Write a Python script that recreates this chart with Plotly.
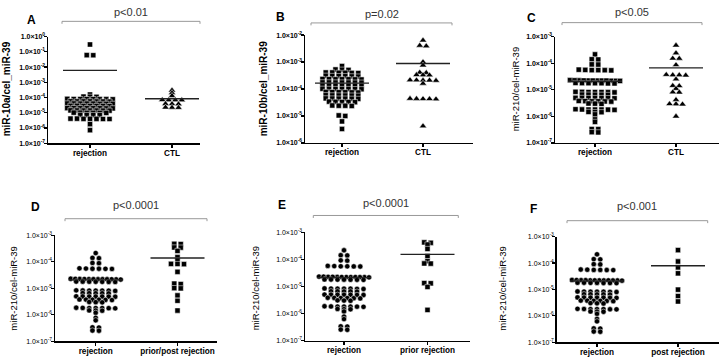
import numpy as np
import plotly.graph_objects as go

# ---------------- data ----------------
a_rej = [3.05e-1, 6.0e-2, 6.1e-2,
         1.58e-4,
         1.12e-4, 1.10e-4, 1.14e-4,
         7.9e-5, 8.0e-5, 7.8e-5, 8.1e-5, 7.9e-5, 7.7e-5, 8.0e-5, 7.8e-5,
         5.6e-5, 5.5e-5, 5.7e-5, 5.6e-5, 5.4e-5, 5.6e-5, 5.5e-5,
         4.0e-5, 3.9e-5, 4.1e-5, 4.0e-5, 3.9e-5, 4.0e-5, 4.1e-5, 3.9e-5,
         2.8e-5, 2.9e-5, 2.8e-5, 2.75e-5, 2.8e-5, 2.9e-5, 2.8e-5,
         2.0e-5, 2.0e-5, 1.95e-5, 2.05e-5, 2.0e-5, 1.95e-5, 2.0e-5, 2.05e-5,
         1.4e-5, 1.45e-5, 1.4e-5, 1.37e-5, 1.4e-5, 1.42e-5, 1.38e-5,
         1.0e-5, 1.02e-5, 0.98e-5, 1.0e-5, 1.01e-5, 0.99e-5,
         7.1e-6, 7.0e-6, 7.2e-6, 7.1e-6,
         4.0e-6, 4.1e-6, 3.9e-6, 4.0e-6, 4.1e-6, 3.9e-6, 4.0e-6,
         1.8e-6,
         7.2e-7]
a_ctl = [3.0e-4, 2.0e-4, 1.3e-4,
         6.9e-5, 7.0e-5, 6.8e-5, 6.9e-5,
         3.8e-5, 3.9e-5, 3.7e-5,
         2.2e-5, 2.25e-5, 2.15e-5]

b_rej = [7.1e-4,
         5.2e-4, 5.3e-4, 5.1e-4,
         4.0e-4, 4.1e-4, 3.9e-4, 4.0e-4, 4.1e-4, 3.95e-4,
         3.0e-4, 3.1e-4, 2.95e-4, 3.0e-4, 3.05e-4, 2.9e-4,
         2.3e-4, 2.35e-4, 2.25e-4, 2.3e-4, 2.32e-4, 2.28e-4, 2.3e-4,
         1.74e-4, 1.76e-4, 1.72e-4, 1.75e-4, 1.73e-4, 1.74e-4, 1.77e-4,
         1.32e-4, 1.30e-4, 1.34e-4, 1.32e-4, 1.31e-4, 1.33e-4, 1.32e-4,
         1.0e-4, 1.02e-4, 0.98e-4, 1.0e-4, 1.01e-4, 0.99e-4, 1.0e-4,
         7.6e-5, 7.7e-5, 7.5e-5, 7.6e-5, 7.8e-5, 7.4e-5,
         5.75e-5, 5.8e-5, 5.7e-5, 5.75e-5, 5.9e-5, 5.6e-5,
         4.4e-5, 4.5e-5, 4.3e-5, 4.4e-5, 4.45e-5, 4.35e-5,
         3.3e-5, 3.35e-5, 3.25e-5, 3.3e-5, 3.4e-5,
         2.4e-5, 2.45e-5, 2.35e-5, 2.4e-5,
         1.0e-5, 1.05e-5,
         6.3e-6,
         3.3e-6]
b_ctl = [6.4e-3, 4.1e-3, 3.9e-3, 1.0e-3, 7.6e-4, 4.1e-4, 4.0e-4,
         3.3e-4, 3.35e-4, 3.25e-4,
         2.1e-4, 2.15e-4, 2.05e-4, 2.1e-4, 2.12e-4, 1.6e-4,
         4.3e-5, 4.4e-5, 4.2e-5, 4.3e-5, 4.35e-5, 4.2e-6]

rej_210 = [2.15e-4,
           1.41e-4, 1.38e-4,
           8.9e-5, 9.1e-5,
           5.5e-5, 5.6e-5, 5.4e-5, 5.5e-5, 5.7e-5, 5.45e-5,
           2.2e-5, 2.25e-5, 2.18e-5, 2.22e-5, 2.3e-5, 2.2e-5,
           2.15e-5, 2.24e-5, 2.21e-5, 2.19e-5, 2.27e-5, 2.2e-5,
           1.77e-5, 1.75e-5, 1.8e-5, 1.76e-5, 1.78e-5, 1.74e-5, 1.79e-5,
           8.2e-6, 8.3e-6, 8.1e-6, 8.2e-6, 8.4e-6, 8.0e-6, 8.2e-6,
           6.5e-6, 6.6e-6, 6.4e-6, 6.5e-6, 6.55e-6,
           4.9e-6, 5.0e-6, 4.8e-6, 4.9e-6, 4.95e-6, 4.85e-6, 4.9e-6,
           3.7e-6, 3.75e-6, 3.65e-6, 3.7e-6, 3.8e-6, 3.6e-6,
           3.0e-6, 3.05e-6, 2.95e-6,
           1.8e-6, 1.82e-6, 1.78e-6, 1.8e-6, 1.85e-6, 1.76e-6, 1.8e-6,
           1.45e-6, 1.47e-6, 1.43e-6,
           1.19e-6, 7.7e-7, 6.2e-7,
           3.3e-7, 3.35e-7,
           2.5e-7, 2.55e-7]
c_ctl = [4.7e-4, 2.4e-4, 1.5e-4, 1.52e-4, 8.6e-5,
         3.6e-5, 3.7e-5, 3.5e-5, 3.6e-5, 2.5e-5,
         1.4e-5, 1.42e-5, 1.1e-5, 8.0e-6, 8.1e-6,
         4.2e-6, 2.9e-6, 2.95e-6, 2.85e-6, 1.0e-6]
d_prior_post = [4.8e-4, 4.7e-4, 3.5e-4, 3.45e-4, 2.6e-4, 1.5e-4, 1.15e-4,
                8.3e-5, 8.4e-5, 8.2e-5, 4.2e-5, 1.5e-5, 1.45e-5,
                1.0e-5, 1.02e-5, 5.4e-6, 3.4e-6, 1.45e-6]
e_prior = [4.2e-4, 4.05e-4, 3.5e-4, 2.4e-4, 1.3e-4, 8.5e-5, 6.9e-5, 7.0e-5,
           1.3e-5, 1.32e-5, 9.5e-6, 1.35e-6]
f_post = [3.1e-4, 1.15e-4, 6.9e-5, 4.1e-5, 9.8e-6, 5.6e-6, 3.5e-6]

# ---------------- panel definitions ----------------
W, H = 720, 358
FONT = "Liberation Sans, Arial, Helvetica, sans-serif"

panels = [
    dict(letter="A", groups=[(a_rej, "square"), (a_ctl, "triangle-up")],
         cats=["rejection", "CTL"], ytitle="miR-10a/cel_miR-39", title_bold=True, tick_bold=True,
         decades=(-7, 0), p="p&lt;0.01",
         x0=48, x1=200, ytop=33.3, ybot=142, c0=90, c1=172,
         let_xy=(31, 16), title_x=6, title_y=87,
         br=(62, 200, 17.7), p_y=8.3),
    dict(letter="B", groups=[(b_rej, "square"), (b_ctl, "triangle-up")],
         cats=["rejection", "CTL"], ytitle="miR-10b/cel_miR-39", title_bold=True, tick_bold=True,
         decades=(-6, -2), p="p=0.02",
         x0=305, x1=473, ytop=31.7, ybot=141.7, c0=342, c1=423,
         let_xy=(280.5, 13.5), title_x=263, title_y=87,
         br=(311, 452, 19.3), p_y=10),
    dict(letter="C", groups=[(rej_210, "square"), (c_ctl, "triangle-up")],
         cats=["rejection", "CTL"], ytitle="miR-210/cel-miR-39", title_bold=False, tick_bold=True,
         decades=(-7, -3), p="p&lt;0.05",
         x0=555, x1=719, ytop=33.3, ybot=141.7, c0=595, c1=676,
         let_xy=(531.7, 14), title_x=515, title_y=87,
         br=(562, 702, 19), p_y=8.3),
    dict(letter="D", groups=[(rej_210, "circle"), (d_prior_post, "square")],
         cats=["rejection", "prior/post rejection"], ytitle="miR-210/cel-miR-39", title_bold=False, tick_bold=False,
         decades=(-7, -3), p="p&lt;0.0001",
         x0=55, x1=216.7, ytop=236, ybot=344, c0=95.7, c1=177.5,
         let_xy=(35.5, 207), title_x=13.3, title_y=290,
         br=(65, 207, 219), p_y=204.5),
    dict(letter="E", groups=[(rej_210, "circle"), (e_prior, "square")],
         cats=["rejection", "prior rejection"], ytitle="miR-210/cel-miR-39", title_bold=False, tick_bold=False,
         decades=(-7, -3), p="p&lt;0.0001",
         x0=305, x1=470, ytop=232.7, ybot=343.3, c0=344, c1=427.5,
         let_xy=(282, 205), title_x=255, title_y=290,
         br=(313.3, 458.3, 215.7), p_y=202.7),
    dict(letter="F", groups=[(rej_210, "circle"), (f_post, "square")],
         cats=["rejection", "post rejection"], ytitle="miR-210/cel-miR-39", title_bold=False, tick_bold=False,
         decades=(-7, -3), p="p&lt;0.001",
         x0=556.7, x1=719, ytop=237.3, ybot=345, c0=597, c1=678,
         let_xy=(533.7, 208.7), title_x=501.7, title_y=290.7,
         br=(567, 707.7, 221), p_y=206),
]


def swarm(vals, center, px_per_unit, s_px=6.5, half_max=25.0, tol=0.04):
    """Prism-like row scatter: points of (nearly) equal value spread sideways."""
    lv = np.log10(np.asarray(vals, dtype=float))
    order = np.argsort(-lv, kind="stable")
    xs = np.zeros(len(lv))
    clusters, cur = [], [order[0]]
    for i in order[1:]:
        if abs(lv[i] - lv[cur[0]]) < tol:
            cur.append(i)
        else:
            clusters.append(cur)
            cur = [i]
    clusters.append(cur)
    for cl in clusters:
        n = len(cl)
        s = s_px if n == 1 else min(s_px, 2 * half_max / (n - 1))
        for k, i in enumerate(cl):
            xs[i] = center + (k - (n - 1) / 2) * s / px_per_unit
    return xs


fig = go.Figure()
layout = dict(width=W, height=H, margin=dict(l=0, r=0, t=0, b=0),
              paper_bgcolor="white", plot_bgcolor="white", showlegend=False,
              font=dict(family=FONT, color="black"))
annotations, shapes = [], []

for idx, p in enumerate(panels, start=1):
    sfx = "" if idx == 1 else str(idx)
    xref, yref = "x" + sfx, "y" + sfx
    unit = p["c1"] - p["c0"]
    xr = [(p["x0"] - p["c0"]) / unit, (p["x1"] - p["c0"]) / unit]
    lo, hi = p["decades"]
    tb = p["tick_bold"]

    def fmt(k, bold):
        t = "1.0×10<sup>%d</sup>" % k
        return "<b>%s</b>" % t if bold else t

    layout["xaxis" + sfx] = dict(
        domain=[p["x0"] / W, p["x1"] / W], range=xr, anchor=yref,
        tickvals=[0, 1], ticktext=["<b>%s</b>" % c for c in p["cats"]],
        ticks="outside", ticklen=3, tickwidth=1.2, tickcolor="black",
        ticklabelstandoff=-2,
        showline=True, linecolor="black", linewidth=1.5,
        showgrid=False, zeroline=False, fixedrange=True,
        tickfont=dict(family=FONT, size=8.2, color="black"))
    layout["yaxis" + sfx] = dict(
        domain=[1 - p["ybot"] / H, 1 - p["ytop"] / H], type="log",
        range=[lo, hi], anchor=xref,
        tickvals=[10.0 ** k for k in range(lo, hi + 1)],
        ticktext=[fmt(k, tb) for k in range(lo, hi + 1)],
        ticks="outside", ticklen=3, tickwidth=1.2, tickcolor="black",
        ticklabelstandoff=-3,
        showline=True, linecolor="black", linewidth=1.5,
        showgrid=False, zeroline=False, fixedrange=True,
        tickfont=dict(family=FONT, size=7, color="black"))

    for gi, (vals, sym) in enumerate(p["groups"]):
        xs = swarm(vals, gi, unit)
        size = 6.5 if sym == "triangle-up" else (5.3 if sym == "circle" else 5.2)
        fig.add_trace(go.Scatter(
            x=xs, y=vals, mode="markers", xaxis=xref, yaxis=yref,
            marker=dict(symbol=sym, size=size, color="black",
                        line=dict(width=0.5, color="white")),
            hoverinfo="skip"))
        m = float(np.mean(vals))
        hw = 27.0 / unit
        fig.add_trace(go.Scatter(
            x=[gi - hw, gi + hw], y=[m, m], mode="lines", xaxis=xref, yaxis=yref,
            line=dict(color="#222", width=1.3), hoverinfo="skip"))

    # panel letter
    annotations.append(dict(text="<b>%s</b>" % p["letter"], xref="paper", yref="paper",
                            x=p["let_xy"][0] / W, y=1 - p["let_xy"][1] / H,
                            xanchor="center", yanchor="middle", showarrow=False,
                            font=dict(family=FONT, size=12, color="black")))
    # y-axis title
    tt = "<b>%s</b>" % p["ytitle"] if p["title_bold"] else p["ytitle"]
    annotations.append(dict(text=tt, xref="paper", yref="paper",
                            x=p["title_x"] / W, y=1 - p["title_y"] / H, textangle=-90,
                            xanchor="center", yanchor="middle", showarrow=False,
                            font=dict(family=FONT, size=10 if p["title_bold"] else 9.5,
                                      color="black")))
    # significance bracket
    bx0, bx1, by = p["br"]
    for (xa, ya, xb, yb) in [(bx0, by, bx1, by), (bx0, by, bx0, by + 2.5), (bx1, by, bx1, by + 2.5)]:
        shapes.append(dict(type="line", xref="paper", yref="paper",
                           x0=xa / W, y0=1 - ya / H, x1=xb / W, y1=1 - yb / H,
                           line=dict(color="#999", width=1)))
    annotations.append(dict(text=p["p"], xref="paper", yref="paper",
                            x=(bx0 + bx1) / 2 / W, y=1 - p["p_y"] / H,
                            xanchor="center", yanchor="middle", showarrow=False,
                            font=dict(family=FONT, size=11, color="#333")))

layout["annotations"] = annotations
layout["shapes"] = shapes
fig.update_layout(**layout)
fig.write_html("out.html", config={"displayModeBar": False, "staticPlot": True},
               post_script="document.body.style.margin='0';document.body.style.padding='0';")
